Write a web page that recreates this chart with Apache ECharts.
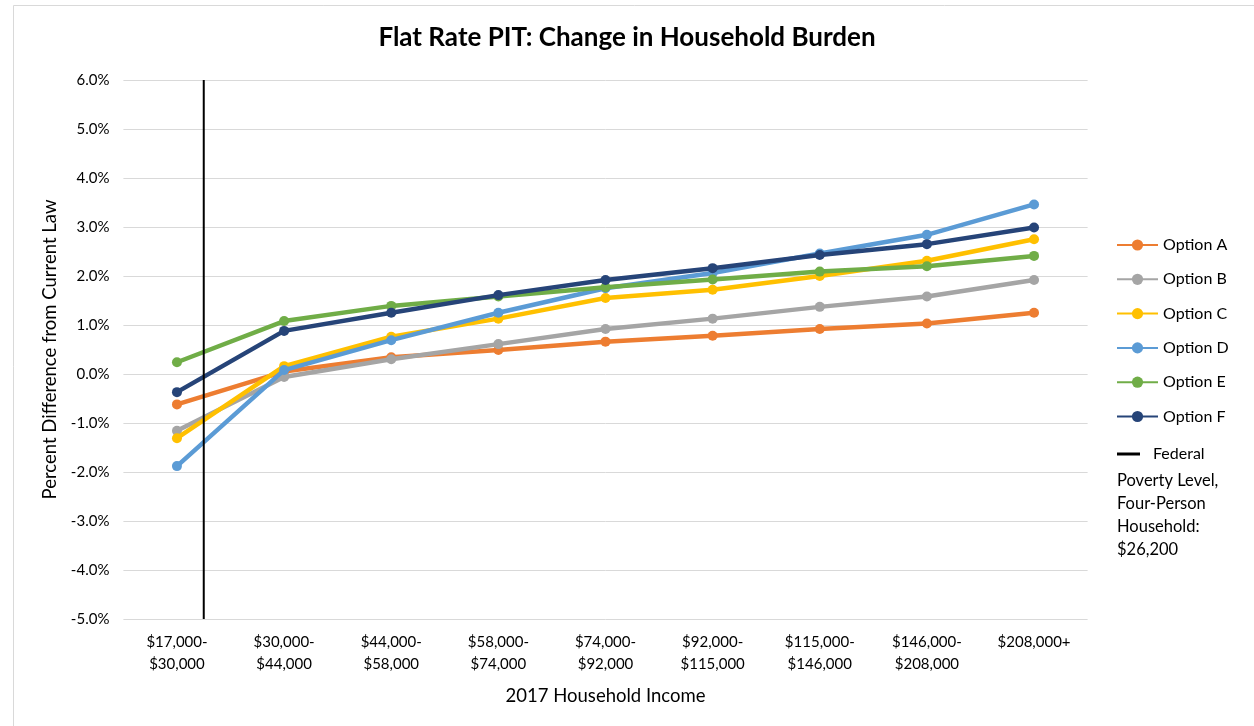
<!DOCTYPE html>
<html>
<head>
<meta charset="utf-8">
<script src="https://cdn.jsdelivr.net/npm/echarts@6/dist/echarts.min.js"></script>
<style>
  html, body { margin: 0; padding: 0; background: #fff; }
  #chart { width: 1254px; height: 726px; }
</style>
</head>
<body>
<div id="chart"></div>
<script>
// Income brackets (x axis)
const categories = [
  '$17,000-\n$30,000', '$30,000-\n$44,000', '$44,000-\n$58,000',
  '$58,000-\n$74,000', '$74,000-\n$92,000', '$92,000-\n$115,000',
  '$115,000-\n$146,000', '$146,000-\n$208,000', '$208,000+'
];

// Percent change in household burden, by option
const optionA = [-0.62, 0.05, 0.34, 0.49, 0.66, 0.78, 0.92, 1.03, 1.25];
const optionB = [-1.16, -0.06, 0.30, 0.61, 0.92, 1.13, 1.37, 1.58, 1.92];
const optionC = [-1.31, 0.16, 0.76, 1.13, 1.55, 1.72, 2.00, 2.31, 2.75];
const optionD = [-1.88, 0.08, 0.69, 1.25, 1.75, 2.06, 2.46, 2.84, 3.46];
const optionE = [0.24, 1.08, 1.39, 1.58, 1.77, 1.93, 2.09, 2.20, 2.41];
const optionF = [-0.37, 0.88, 1.25, 1.61, 1.92, 2.16, 2.43, 2.65, 2.99];

const seriesNames = ['Option A', 'Option B', 'Option C', 'Option D', 'Option E', 'Option F'];
const seriesColors = ['#ED7D31', '#A5A5A5', '#FFC000', '#5B9BD5', '#70AD47', '#264478'];
const seriesData = [optionA, optionB, optionC, optionD, optionE, optionF];

// Federal poverty level marker, in category-band units from the left edge
const povertyName = 'Federal Poverty Level, Four-Person Household: $26,200';
const povertyX = 0.75;
const yTicks = { min: -5, max: 6, interval: 1 };

const FONT = 'Lato, "Open Sans", sans-serif';
const chart = echarts.init(document.getElementById('chart'));

const lineSeries = seriesNames.map((name, i) => ({
  name,
  type: 'line',
  xAxisIndex: 0,
  data: seriesData[i],
  symbol: 'circle',
  symbolSize: 10,
  showSymbol: true,
  lineStyle: { width: 4.5, color: seriesColors[i] },
  itemStyle: { color: seriesColors[i] },
  z: 3 + i
}));

lineSeries.push({
  name: povertyName,
  type: 'line',
  xAxisIndex: 1,
  data: [[povertyX, yTicks.min], [povertyX, yTicks.max]],
  showSymbol: false,
  symbol: 'none',
  lineStyle: { width: 2, color: '#000' },
  itemStyle: { color: '#000' },
  z: 10
});

chart.setOption({
  backgroundColor: '#fff',
  animation: false,
  title: {
    text: 'Flat Rate PIT: Change in Household Burden',
    left: 'center',
    top: 20,
    textStyle: { fontFamily: FONT, fontSize: 26, fontWeight: 'bold', color: '#000' }
  },
  grid: { left: 123.4, right: 166.4, top: 80, bottom: 107 },
  legend: [
    {
      data: seriesNames,
      orient: 'vertical',
      left: 1116,
      top: 237,
      padding: 0,
      itemWidth: 41,
      itemHeight: 14,
      itemGap: 18.3,
      textStyle: { fontFamily: FONT, fontSize: 16, color: '#000' }
    },
    {
      data: [{ name: povertyName, icon: 'rect' }],
      left: 1117,
      top: 446,
      padding: 0,
      itemWidth: 23,
      itemHeight: 3,
      formatter: () => 'Federal',
      textStyle: { fontFamily: FONT, fontSize: 16, color: '#000', padding: [0, 0, 0, 8] }
    }
  ],
  graphic: [
    {
      type: 'rect',
      shape: { x: 13.5, y: 5.5, width: 1260, height: 740 },
      style: { fill: 'none', stroke: '#d9d9d9', lineWidth: 1 },
      silent: true
    },
    {
      type: 'text',
      left: 1117,
      top: 469,
      style: {
        text: 'Poverty Level,\nFour-Person\nHousehold:\n$26,200',
        fontFamily: FONT, fontSize: 16.5, lineHeight: 23, fill: '#000'
      }
    }
  ],
  xAxis: [
    {
      type: 'category',
      data: categories,
      boundaryGap: true,
      axisLine: { show: false },
      axisTick: { show: false },
      axisLabel: { fontFamily: FONT, fontSize: 15, color: '#000', lineHeight: 22, margin: 12, interval: 0 },
      name: '2017 Household Income',
      nameLocation: 'middle',
      nameGap: 68,
      nameTextStyle: { fontFamily: FONT, fontSize: 18.5, color: '#000' }
    },
    {
      type: 'value',
      min: 0,
      max: categories.length,
      show: false
    }
  ],
  yAxis: {
    type: 'value',
    min: yTicks.min,
    max: yTicks.max,
    interval: yTicks.interval,
    axisLine: { show: false },
    axisTick: { show: false },
    splitLine: { lineStyle: { color: '#d9d9d9', width: 1 } },
    axisLabel: {
      fontFamily: FONT, fontSize: 15, color: '#000', margin: 14,
      formatter: v => v.toFixed(1) + '%'
    },
    name: 'Percent Difference from Current Law',
    nameLocation: 'middle',
    nameGap: 63,
    nameRotate: 90,
    nameTextStyle: { fontFamily: FONT, fontSize: 18.5, color: '#000' }
  },
  series: lineSeries
});
</script>
</body>
</html>
